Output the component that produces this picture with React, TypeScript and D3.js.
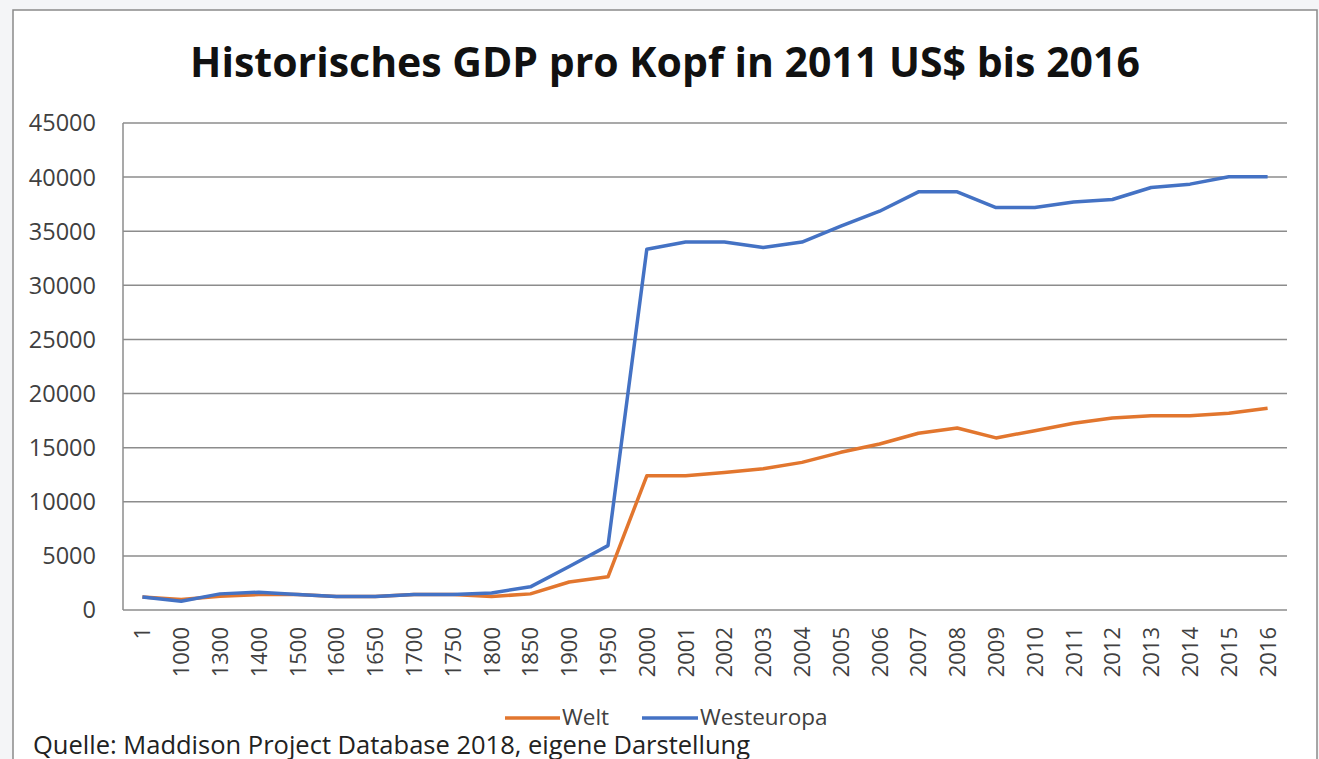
import React from "react";
import * as d3 from "d3";

const categories = ["1","1000","1300","1400","1500","1600","1650","1700","1750","1800","1850","1900","1950","2000","2001","2002","2003","2004","2005","2006","2007","2008","2009","2010","2011","2012","2013","2014","2015","2016"];
const welt = [1200,980,1280,1430,1430,1250,1250,1430,1430,1250,1490,2590,3070,12400,12400,12700,13050,13640,14570,15340,16330,16820,15900,16570,17250,17750,17960,17960,18180,18640];
const westeuropa = [1200,800,1490,1640,1430,1250,1250,1430,1430,1580,2140,4020,5950,33330,34000,34000,33500,34000,35460,36850,38640,38640,37190,37190,37710,37930,39040,39350,40030,40030];
const yTicks = [0,5000,10000,15000,20000,25000,30000,35000,40000,45000];
const seriesNames = ["Welt","Westeuropa"];
const title = "Historisches GDP pro Kopf in 2011 US$ bis 2016";
const source = "Quelle: Maddison Project Database 2018, eigene Darstellung";

const W = 1319, H = 759;
const FONT = "'Open Sans', Lato, sans-serif";
const ORANGE = "#E2762E";
const BLUE = "#4472C4";

export default function App() {
  const x = d3.scaleBand<string>().domain(categories).range([123, 1287]);
  const y = d3.scaleLinear().domain([0, 45000]).range([610, 123]);
  const cx = (c: string) => (x(c) as number) + x.bandwidth() / 2;
  const line = d3.line<number>().x((_, i) => cx(categories[i])).y(d => y(d));
  const series = [
    { name: seriesNames[0], values: welt, color: ORANGE },
    { name: seriesNames[1], values: westeuropa, color: BLUE },
  ];
  return (
    <div style={{ position: "absolute", left: 0, top: 0 }}>
      <svg width={W} height={H} style={{ display: "block" }}>
        <rect x={0} y={0} width={W} height={H} fill="#f4f5f7" />
        <rect x={13} y={10} width={1304} height={H} fill="#fff" stroke="#8a8a8a" strokeWidth={1.5} />
        <text x={665} y={77} textAnchor="middle" fontFamily={FONT} fontWeight="bold" fontSize={41} fill="#111">{title}</text>
        {yTicks.map(t => (
          <g key={t}>
            <line x1={123} x2={1287} y1={y(t)} y2={y(t)} stroke="#8c8c8c" strokeWidth={1.5} />
            <text x={96} y={y(t)} dy="0.36em" textAnchor="end" fontFamily={FONT} fontSize={23.5} fill="#404040">{t}</text>
          </g>
        ))}
        <line x1={123} x2={123} y1={y(45000)} y2={y(0)} stroke="#8c8c8c" strokeWidth={1.5} />
        {categories.map(c => (
          <text key={c} transform={`translate(${cx(c)},627) rotate(-90)`} textAnchor="end" dy="0.36em" fontFamily={FONT} fontSize={22} fill="#404040">{c}</text>
        ))}
        {series.map(s => (
          <path key={s.name} d={line(s.values) as string} fill="none" stroke={s.color} strokeWidth={3.5} strokeLinejoin="round" />
        ))}
        <line x1={505} x2={560} y1={718} y2={718} stroke={ORANGE} strokeWidth={3.5} />
        <text x={562} y={725} fontFamily={FONT} fontSize={22.5} fill="#404040">{seriesNames[0]}</text>
        <line x1={642} x2={698} y1={718} y2={718} stroke={BLUE} strokeWidth={3.5} />
        <text x={700} y={725} fontFamily={FONT} fontSize={22.5} fill="#404040">{seriesNames[1]}</text>
        <text x={33} y={754} fontFamily={FONT} fontSize={25.5} fill="#222">{source}</text>
      </svg>
    </div>
  );
}
